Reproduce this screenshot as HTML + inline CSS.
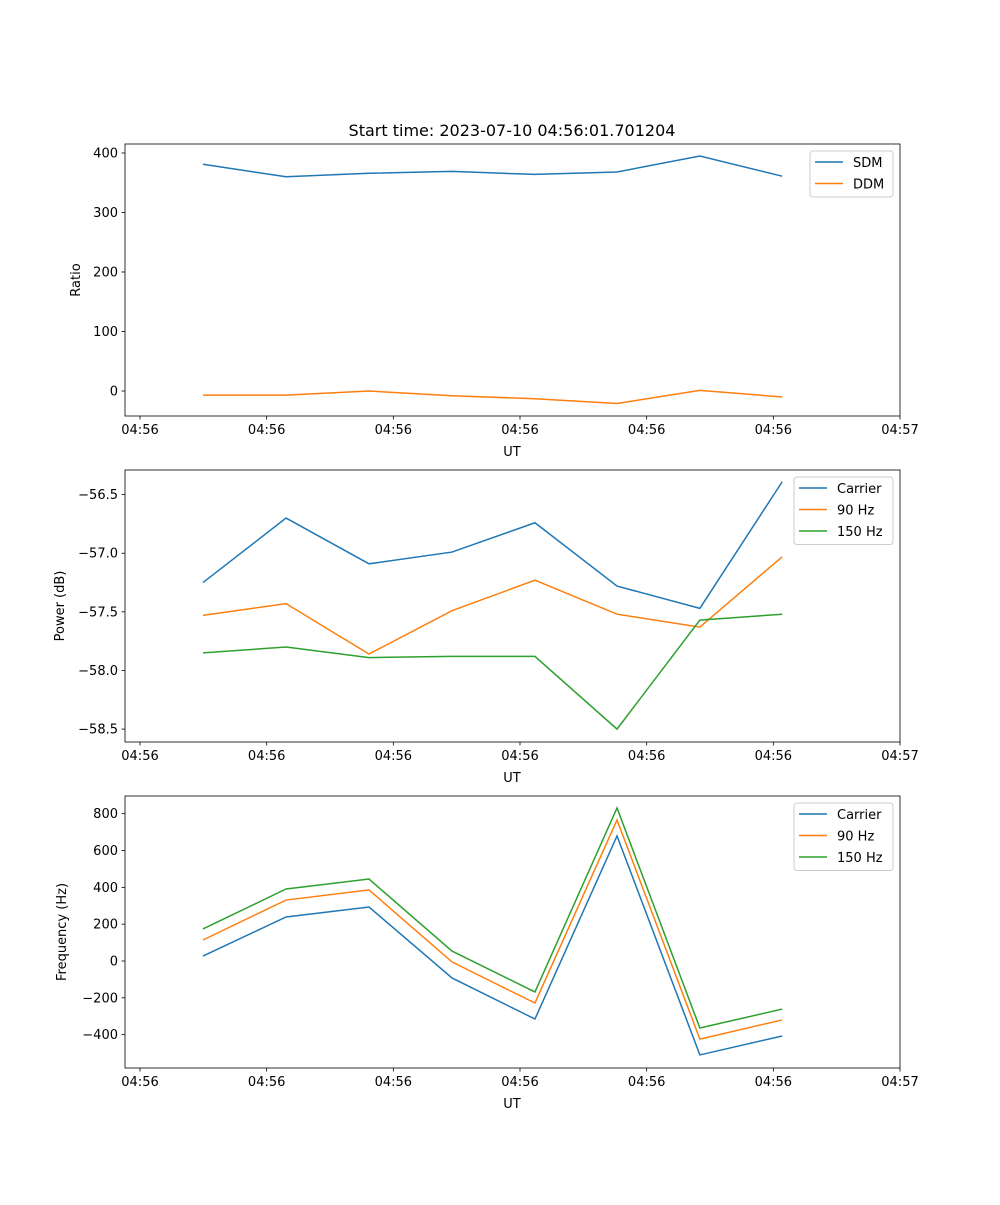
<!DOCTYPE html>
<html><head><meta charset="utf-8"><style>
body{margin:0;background:#fff}
svg{font-family:"DejaVu Sans","Liberation Sans",sans-serif}
</style></head><body>
<svg id="fig" width="1000" height="1200" xmlns="http://www.w3.org/2000/svg">
<rect width="1000" height="1200" fill="#fff"/>
<text x="512" y="136" font-size="16" text-anchor="middle">Start time: 2023-07-10 04:56:01.701204</text>
</svg>
<script>
const times=[0.497,1.153,1.808,2.463,3.118,3.766,4.42,5.07];
const xTickLabels=["04:56","04:56","04:56","04:56","04:56","04:56","04:57"];
const sdm=[381,360,366,369,364,368,395,361];
const ddm=[-7,-7,0,-8,-13,-21,1,-10];
const pCarrier=[-57.25,-56.70,-57.09,-56.99,-56.74,-57.28,-57.47,-56.39];
const p90=[-57.53,-57.43,-57.86,-57.49,-57.23,-57.52,-57.63,-57.03];
const p150=[-57.85,-57.80,-57.89,-57.88,-57.88,-58.5,-57.57,-57.52];
const fCarrier=[27,239,293,-92,-315,679,-510,-407];
const f90=[114,331,386,-5,-228,766,-424,-320];
const f150=[174,391,445,54,-168,831,-364,-261];
const yTicks1=[0,100,200,300,400];
const yTicks2=[-58.5,-58.0,-57.5,-57.0,-56.5];
const yTicks3=[-400,-200,0,200,400,600,800];
const C=['#1f77b4','#ff7f0e','#2ca02c'];
const NS='http://www.w3.org/2000/svg';
const svg=document.getElementById('fig');
function el(t,a,p){const e=document.createElementNS(NS,t);for(const k in a)e.setAttribute(k,a[k]);(p||svg).appendChild(e);return e;}
function panel(top,ymin,ymax,yticks,fmt,ylabel,series,names,legW,legX,name){
  const L=125,R=900,B=top+272;
  const g=el('g',{});
  
  
  const sx=v=>140+v*(760/6);
  const sy=v=>B-(v-ymin)/(ymax-ymin)*(B-top);
  series.forEach((s,i)=>{
    const pl=el('polyline',{points:s.map((v,j)=>sx(times[j])+','+sy(v)).join(' '),fill:'none',stroke:C[i],'stroke-width':1.5},g);
    
    
  });
  el('rect',{x:L,y:top,width:R-L,height:B-top,fill:'none',stroke:'#000','stroke-width':0.8},g);
  xTickLabels.forEach((t,i)=>{const x=sx(i);
    el('line',{x1:x,x2:x,y1:B,y2:B+3.5,stroke:'#000','stroke-width':0.8},g);
    const tx=el('text',{x:x,y:B+18,'font-size':13,'text-anchor':'middle'},g);tx.textContent=t;
    
    });
  const xl=el('text',{x:512,y:B+40,'font-size':13,'text-anchor':'middle'},g);xl.textContent='UT';
  
  
  yticks.forEach(v=>{const y=sy(v);
    el('line',{x1:L-3.5,x2:L,y1:y,y2:y,stroke:'#000','stroke-width':0.8},g);
    const tx=el('text',{x:L-7,y:y+4.5,'font-size':13,'text-anchor':'end'},g);tx.textContent=fmt(v);
    
    });
  const cy=(top+B)/2;
  const yl=el('text',{x:0,y:0,'font-size':13,'text-anchor':'middle',transform:`translate(${ylabel[1]},${cy}) rotate(-90)`},g);yl.textContent=ylabel[0];
  
  
  const lg=el('g',{},g);
  
  
  el('rect',{x:legX,y:top+7,width:893-legX,height:names.length*21.5+3,fill:'#fff',stroke:'#ccc',rx:3},lg);
  names.forEach((n,i)=>{const y=top+18+i*21.5;
    el('line',{x1:legX+5,x2:legX+33,y1:y,y2:y,stroke:C[i],'stroke-width':1.5},lg);
    const tx=el('text',{x:legX+43,y:y+5,'font-size':13},lg);tx.textContent=n;
    
    });
}
const m=v=>v<0?'\u2212'+Math.abs(v):''+v;
const m1=v=>v<0?'\u2212'+Math.abs(v).toFixed(1):v.toFixed(1);
panel(144,-42,415.1,yTicks1,m,['Ratio',80],[sdm,ddm],['SDM','DDM'],0,810,'ratio-panel');
panel(470,-58.61,-56.29,yTicks2,m1,['Power (dB)',64],[pCarrier,p90,p150],['Carrier','90 Hz','150 Hz'],0,794,'power-panel');
panel(796,-581,896,yTicks3,m,['Frequency (Hz)',66],[fCarrier,f90,f150],['Carrier','90 Hz','150 Hz'],0,794,'frequency-panel');
</script>
</body></html>
